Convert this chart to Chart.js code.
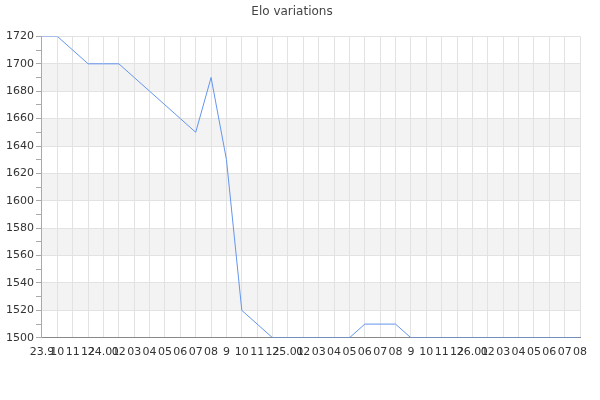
<!DOCTYPE html>
<html>
<head>
<meta charset="utf-8">
<title>Elo variations</title>
<script src="https://cdn.jsdelivr.net/npm/chart.js@4/dist/chart.umd.min.js"></script>
<style>
  html, body { margin: 0; padding: 0; background: #ffffff; }
  #wrap { width: 600px; height: 400px; }
</style>
</head>
<body>
<div id="wrap"><canvas id="elo-chart" width="600" height="400"></canvas></div>
<script>
"use strict";

// Month labels, Sep 2023 .. Aug 2026
const monthLabels = [
  "23.9", "10", "11", "12",
  "24.01", "02", "03", "04", "05", "06", "07", "08", "9", "10", "11", "12",
  "25.01", "02", "03", "04", "05", "06", "07", "08", "9", "10", "11", "12",
  "26.01", "02", "03", "04", "05", "06", "07", "08",
];

const eloValues = [
  1720, 1720, 1710, 1700,
  1700, 1700, 1690, 1680, 1670, 1660, 1650, 1690, 1630, 1520, 1510, 1500,
  1500, 1500, 1500, 1500, 1500, 1510, 1510, 1510, 1500, 1500, 1500, 1500,
  1500, 1500, 1500, 1500, 1500, 1500, 1500, 1500,
];

const yMin = 1500;
const yMax = 1720;
const yStep = 10;
const yLabelEvery = 20;

// shaded horizontal bands [from, to]
const bandRanges = [
  [1520, 1540],
  [1560, 1580],
  [1600, 1620],
  [1640, 1660],
  [1680, 1700],
];

const bandPlugin = {
  id: "bands",
  beforeDraw(chart) {
    const { ctx, chartArea, scales } = chart;
    ctx.save();
    ctx.fillStyle = "#f3f3f3";
    for (const [from, to] of bandRanges) {
      const top = scales.y.getPixelForValue(to);
      const bottom = scales.y.getPixelForValue(from);
      ctx.fillRect(chartArea.left, top, chartArea.right - chartArea.left, bottom - top);
    }
    ctx.restore();
  },
};

Chart.defaults.font.family = '"DejaVu Sans", sans-serif';
Chart.defaults.color = "#333333";

new Chart(document.getElementById("elo-chart").getContext("2d"), {
  type: "line",
  data: {
    labels: monthLabels,
    datasets: [{
      label: "Elo",
      data: eloValues,
      borderColor: "#6495ed",
      backgroundColor: "#6495ed",
      borderWidth: 1,
      pointRadius: 0,
      tension: 0,
    }],
  },
  plugins: [bandPlugin],
  options: {
    responsive: false,
    animation: false,
    layout: {
      padding: { top: 0, right: 20, bottom: 33, left: 4 },
    },
    plugins: {
      legend: { display: false },
      tooltip: { enabled: false },
      title: {
        display: true,
        text: "Elo variations",
        color: "#444444",
        font: { size: 12, weight: "normal" },
        padding: { top: 5, bottom: 17 },
      },
    },
    scales: {
      x: {
        offset: false,
        grid: {
          color: "#e2e2e2",
          drawTicks: false,
        },
        border: { color: "#888888" },
        ticks: {
          autoSkip: false,
          maxRotation: 0,
          minRotation: 0,
          padding: 8,
          font: { size: 11 },
        },
      },
      y: {
        min: yMin,
        max: yMax,
        grid: {
          color: (ctx) => (ctx.tick && ctx.tick.value % yLabelEvery === 0 ? "#e2e2e2" : "rgba(0,0,0,0)"),
          tickColor: "#aaaaaa",
          tickLength: 6,
        },
        border: { color: "#aaaaaa" },
        ticks: {
          stepSize: yStep,
          autoSkip: false,
          padding: 2,
          font: { size: 11 },
          callback: (value) => (value % yLabelEvery === 0 ? String(value) : ""),
        },
      },
    },
  },
});
</script>
</body>
</html>
